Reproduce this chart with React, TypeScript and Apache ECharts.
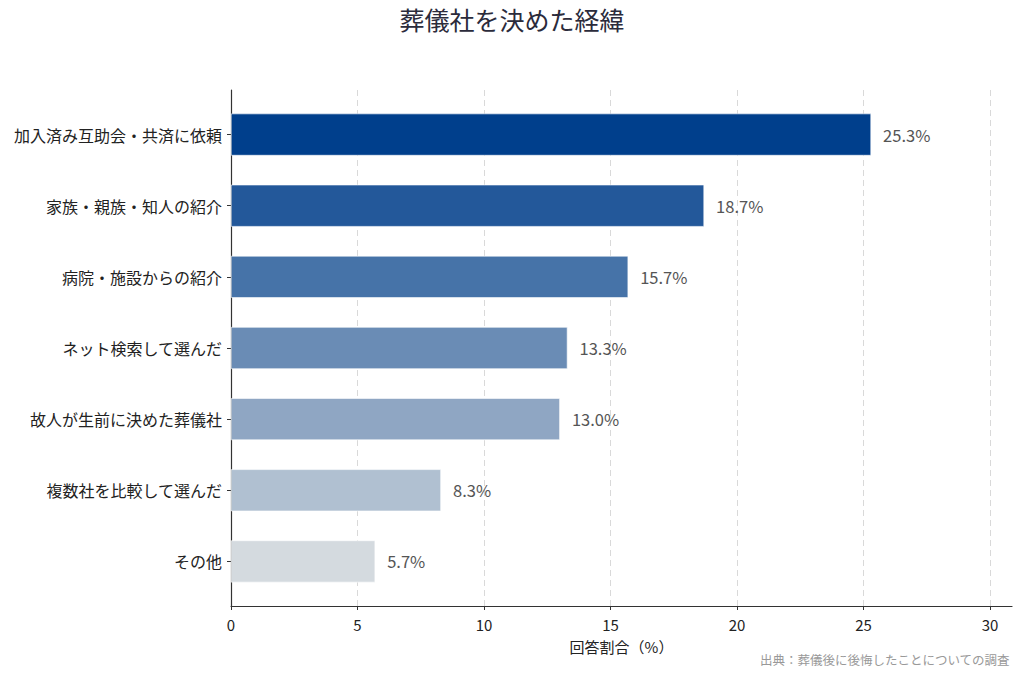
import React, { useEffect, useRef } from "react";
import * as echarts from "echarts";

// 葬儀社を決めた経緯（回答割合 %）
const categories = [
  "加入済み互助会・共済に依頼",
  "家族・親族・知人の紹介",
  "病院・施設からの紹介",
  "ネット検索して選んだ",
  "故人が生前に決めた葬儀社",
  "複数社を比較して選んだ",
  "その他",
];
const values = [25.3, 18.7, 15.7, 13.3, 13.0, 8.3, 5.7];
const barColors = [
  "#003f8c",
  "#23589a",
  "#4673a8",
  "#6a8cb5",
  "#8fa6c3",
  "#b0c0d1",
  "#d4dadf",
];
const xTicks = [0, 5, 10, 15, 20, 25, 30];
const X_MAX = 30.87;

const FONT = "'Noto Sans CJK JP', 'Noto Sans', sans-serif";

export default function App() {
  const ref = useRef<HTMLDivElement>(null);

  useEffect(() => {
    if (!ref.current) return;
    const chart = echarts.init(ref.current, null, { renderer: "svg" });
    chart.setOption({
      animation: false,
      backgroundColor: "#ffffff",
      title: {
        text: "葬儀社を決めた経緯",
        left: "center",
        top: 1,
        textStyle: { fontFamily: FONT, fontSize: 25, fontWeight: "normal", color: "#2b2b3b" },
      },
      grid: [
        // bars: inset by the category padding inside the frame
        { left: 231, right: 12, top: 99, bottom: 81 },
        // frame: spines, ticks, gridlines and x labels
        { left: 231, right: 12, top: 90, bottom: 72 },
      ],
      xAxis: [
        {
          gridIndex: 0,
          type: "value",
          min: 0,
          max: X_MAX,
          show: false,
          splitLine: { show: false },
        },
        {
          gridIndex: 1,
          type: "value",
          min: 0,
          max: X_MAX,
          interval: 5,
          name: "回答割合（%）",
          nameLocation: "middle",
          nameGap: 33,
          nameTextStyle: { fontFamily: FONT, fontSize: 15, color: "#222" },
          axisLine: { show: true, lineStyle: { color: "#333", width: 1.2 } },
          axisTick: { show: true, length: 4, customValues: xTicks, lineStyle: { color: "#333" } },
          axisLabel: {
            customValues: xTicks,
            fontFamily: FONT,
            fontSize: 15,
            color: "#222",
            margin: 11,
          },
          splitLine: {
            show: true,
            lineStyle: { color: "#d9d9d9", type: [6, 4], width: 1 },
          },
        },
      ],
      yAxis: [
        {
          gridIndex: 0,
          type: "category",
          inverse: true,
          data: categories,
          axisLine: { show: false },
          axisTick: { show: true, length: 4, alignWithLabel: true, lineStyle: { color: "#333" } },
          axisLabel: {
            fontFamily: FONT,
            fontSize: 16,
            color: "#222",
            margin: 9,
          },
          splitLine: { show: false },
        },
        {
          gridIndex: 1,
          type: "value",
          min: 0,
          max: 1,
          axisLine: { show: true, lineStyle: { color: "#333", width: 1.2 } },
          axisTick: { show: false },
          axisLabel: { show: false },
          splitLine: { show: false },
        },
      ],
      series: [
        {
          type: "bar",
          xAxisIndex: 0,
          yAxisIndex: 0,
          barWidth: 42,
          data: values.map((v, i) => ({
            value: v,
            itemStyle: { color: barColors[i], borderColor: "#ffffff", borderWidth: 0.6 },
          })),
          label: {
            show: true,
            position: "right",
            distance: 12,
            formatter: (p: any) => `${values[p.dataIndex].toFixed(1)}%`,
            fontFamily: FONT,
            fontSize: 16.5,
            color: "#555",
          },
        },
      ],
      graphic: [
        {
          type: "text",
          right: 14,
          top: 653,
          style: {
            text: "出典：葬儀後に後悔したことについての調査",
            fontFamily: FONT,
            fontSize: 12.5,
            fill: "#999",
          },
        },
      ],
    });
    return () => chart.dispose();
  }, []);

  return (
    <div
      ref={ref}
      style={{ position: "fixed", left: 0, top: 0, width: 1024, height: 678 }}
    />
  );
}
